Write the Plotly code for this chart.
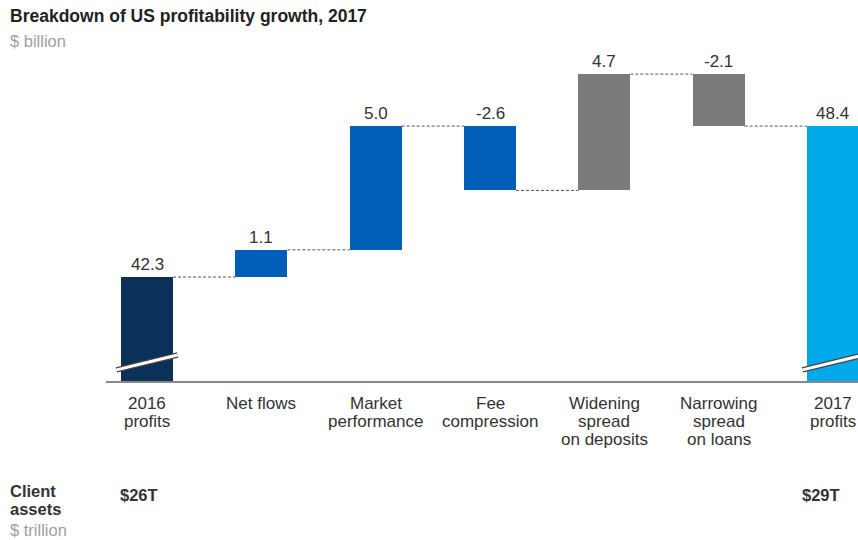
import plotly.graph_objects as go

# Waterfall data ($ billion)
categories = ["2016<br>profits", "Net flows", "Market<br>performance", "Fee<br>compression",
              "Widening<br>spread<br>on deposits", "Narrowing<br>spread<br>on loans", "2017<br>profits"]
start_total = 42.3
deltas = [1.1, 5.0, -2.6, 4.7, -2.1]
end_total = 48.4
bar_colors = ["#0b3158", "#005eb8", "#005eb8", "#005eb8", "#7a7a7a", "#7a7a7a", "#00a9e9"]
client_assets = ["$26T", None, None, None, None, None, "$29T"]

FONT = "Liberation Sans, Arial, sans-serif"
TXT = "#333333"
LBL = 17           # label font size
W = 0.455          # bar width in category units
Y_MIN, Y_MAX = 38.1, 51.07

# Bar geometry from the running total
values = [start_total] + deltas + [end_total]
bases, levels = [0.0], [start_total]
running = start_total
for d in deltas:
    bases.append(running)
    running += d
    levels.append(running)
bases.append(0.0)
levels.append(end_total)
xs = list(range(len(values)))

fig = go.Figure()
fig.add_trace(go.Bar(
    x=xs, y=values, base=bases, width=W,
    marker=dict(color=bar_colors, line=dict(width=0)),
    hoverinfo="skip", showlegend=False,
))

# Dotted connectors between consecutive bars
for i in range(len(values) - 1):
    fig.add_trace(go.Scatter(
        x=[i + W / 2, i + 1 - W / 2], y=[levels[i], levels[i]],
        mode="lines", line=dict(color="#555555", width=1, dash="3px,2px"),
        hoverinfo="skip", showlegend=False,
    ))

# Axis-break marks on the two total bars
for i in (0, len(values) - 1):
    bx = [i - W / 2 - 0.04, i + W / 2 + 0.04]
    by = [Y_MIN + 0.45, Y_MIN + 1.05]
    fig.add_trace(go.Scatter(x=bx, y=by, mode="lines",
                             line=dict(color="#444444", width=5.5),
                             hoverinfo="skip", showlegend=False))
    fig.add_trace(go.Scatter(x=bx, y=by, mode="lines",
                             line=dict(color="#ffffff", width=3),
                             hoverinfo="skip", showlegend=False))

annotations = []
# Value labels above each bar
for i, v in enumerate(values):
    top = max(bases[i], bases[i] + v) if 0 < i < len(values) - 1 else v
    annotations.append(dict(x=i, y=top, xref="x", yref="y", text=f"{v:.1f}",
                            showarrow=False, yanchor="bottom", yshift=1,
                            font=dict(family=FONT, size=LBL, color=TXT)))

# Category labels under the axis, one line at a time for tighter leading
for i, cat in enumerate(categories):
    for k, line in enumerate(cat.split("<br>")):
        annotations.append(dict(x=i, y=0, xref="x", yref="paper", text=line,
                                showarrow=False, xanchor="center", yanchor="middle",
                                yshift=381 - (403 + 18 * k),
                                font=dict(family=FONT, size=LBL, color=TXT)))

def side_text(text, px_x, px_y, size=16.5, color=TXT, bold=False):
    t = f"<b>{text}</b>" if bold else text
    annotations.append(dict(x=0, y=0, xref="paper", yref="paper", text=t,
                            showarrow=False, xanchor="left", yanchor="middle",
                            xshift=px_x - 106, yshift=381 - px_y,
                            font=dict(family=FONT, size=size, color=color)))

side_text("Breakdown of US profitability growth, 2017", 8, 16, size=17.5, color="#222222", bold=True)
side_text("$ billion", 8, 41, color="#a0a0a0")
side_text("Client", 8, 491, bold=True)
side_text("assets", 8, 509, bold=True)
side_text("$ trillion", 8, 530, color="#a0a0a0")

for i, a in enumerate(client_assets):
    if a:
        annotations.append(dict(x=i - W / 2, y=0, xref="x", yref="paper", text=f"<b>{a}</b>",
                                showarrow=False, xanchor="left", yanchor="middle",
                                xshift=-3 if i == 0 else -7, yshift=381 - 495,
                                font=dict(family=FONT, size=16.5, color=TXT)))

fig.update_layout(
    width=858, height=540,
    margin=dict(l=106, r=0, t=60, b=159),
    paper_bgcolor="white", plot_bgcolor="white",
    bargap=0,
    annotations=annotations,
    xaxis=dict(range=[-0.359, 6.219], tickvals=xs, showticklabels=False,
               showline=True, linecolor="#888888", linewidth=2,
               showgrid=False, zeroline=False, ticks="", fixedrange=True),
    yaxis=dict(range=[Y_MIN, Y_MAX], visible=False, showgrid=False, fixedrange=True),
)

fig.write_html("out.html")
